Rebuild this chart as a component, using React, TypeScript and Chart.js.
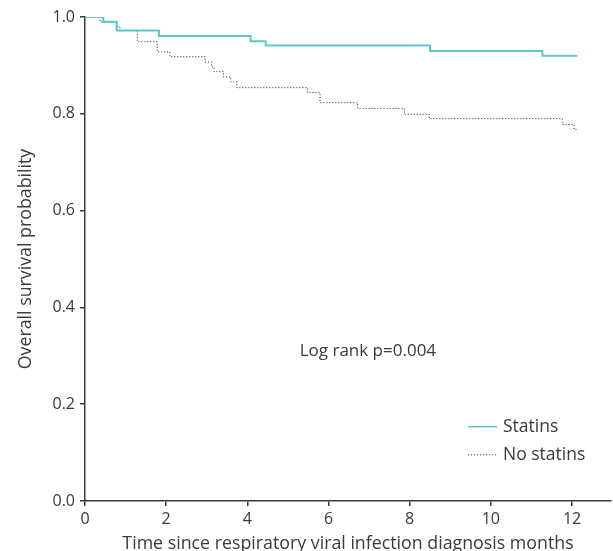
import React, { useEffect, useRef } from "react";
import { Chart, registerables } from "chart.js";

Chart.register(...registerables);

// Statins: [time (months), survival]
const statinsTimes = [0, 0.45, 0.78, 1.82, 4.08, 4.45, 8.5, 11.27, 12.13];
const statinsSurv = [1.0, 0.99, 0.972, 0.961, 0.95, 0.941, 0.93, 0.92, 0.92];

const noStatinsTimes = [
  0, 0.37, 0.78, 0.86, 1.29, 1.78, 2.09, 2.96, 3.12, 3.18, 3.41, 3.59, 3.74,
  5.48, 5.79, 6.72, 7.87, 8.48, 11.76, 12.05, 12.1,
];
const noStatinsSurv = [
  1.0, 0.99, 0.98, 0.972, 0.949, 0.928, 0.918, 0.907, 0.897, 0.887, 0.876,
  0.866, 0.854, 0.844, 0.823, 0.811, 0.799, 0.79, 0.778, 0.768, 0.765,
];

const xTicks = [0, 2, 4, 6, 8, 10, 12];
const yTicks = [0, 0.2, 0.4, 0.6, 0.8, 1.0];

const seriesLabels = ["Statins", "No statins"];
const annotationText = "Log rank p=0.004";
const xTitle = "Time since respiratory viral infection diagnosis months";
const yTitle = "Overall survival probability";

const TEAL = "#5cc6cb";
const TEXT = "#3a3a3a";
const AXIS = "#3a3a3a";
const FONT = "'Open Sans'";

export default function App() {
  const ref = useRef<HTMLCanvasElement | null>(null);

  useEffect(() => {
    document.body.style.margin = "0";
    const canvas = ref.current;
    if (!canvas) return;

    const overlay = {
      id: "overlay",
      afterDatasetsDraw(chart: any) {
        const ctx = chart.ctx;
        const xs = chart.scales.x;
        const ys = chart.scales.y;
        ctx.save();
        ctx.fillStyle = TEXT;
        ctx.font = `17px ${FONT}`;
        ctx.textBaseline = "middle";
        ctx.textAlign = "center";
        ctx.fillText(annotationText, xs.getPixelForValue(6.97), ys.getPixelForValue(0.309));
        // legend
        const lx0 = xs.getPixelForValue(9.44);
        const lx1 = xs.getPixelForValue(10.15);
        const ly0 = ys.getPixelForValue(0.1535);
        const ly1 = ys.getPixelForValue(0.0954);
        ctx.lineWidth = 1.5;
        ctx.strokeStyle = TEAL;
        ctx.beginPath();
        ctx.moveTo(lx0, ly0);
        ctx.lineTo(lx1, ly0);
        ctx.stroke();
        ctx.lineWidth = 1;
        ctx.strokeStyle = "#222";
        ctx.setLineDash([1, 2]);
        ctx.beginPath();
        ctx.moveTo(lx0, ly1);
        ctx.lineTo(lx1, ly1);
        ctx.stroke();
        ctx.setLineDash([]);
        ctx.textAlign = "left";
        ctx.font = `17.5px ${FONT}`;
        ctx.fillText(seriesLabels[0], lx1 + 6, ly0);
        ctx.fillText(seriesLabels[1], lx1 + 6, ly1);
        ctx.restore();
      },
    };

    const chart = new Chart(canvas, {
      type: "line",
      data: {
        datasets: [
          {
            label: seriesLabels[0],
            data: statinsTimes.map((t, i) => ({ x: t, y: statinsSurv[i] })),
            borderColor: TEAL,
            borderWidth: 2,
            pointRadius: 0,
            stepped: "before",
            fill: false,
          },
          {
            label: seriesLabels[1],
            data: noStatinsTimes.map((t, i) => ({ x: t, y: noStatinsSurv[i] })),
            borderColor: "#222",
            borderWidth: 1,
            borderDash: [1, 2],
            pointRadius: 0,
            stepped: "before",
            fill: false,
          },
        ],
      },
      options: {
        animation: false,
        responsive: false,
        devicePixelRatio: 1,
        layout: { padding: { top: 17, right: 2, left: 0, bottom: 0 } },
        plugins: { legend: { display: false }, tooltip: { enabled: false } },
        scales: {
          x: {
            type: "linear",
            min: 0,
            max: 12.96,
            afterBuildTicks: (s: any) => {
              s.ticks = xTicks.map((v) => ({ value: v }));
            },
            afterFit: (s: any) => {
              s.height = 50;
            },
            ticks: {
              color: TEXT,
              font: { family: FONT, size: 16 },
              padding: 4,
              maxRotation: 0,
              callback: (v: any) => String(v),
            },
            grid: { display: true, drawOnChartArea: false, drawTicks: true, tickLength: 5, color: AXIS, lineWidth: 1.5 },
            border: { display: true, color: AXIS, width: 1.5 },
            title: {
              display: true,
              text: xTitle,
              color: TEXT,
              font: { family: FONT, size: 17.8 },
              padding: { top: 0, bottom: -4 },
            },
          },
          y: {
            type: "linear",
            min: 0,
            max: 1,
            afterBuildTicks: (s: any) => {
              s.ticks = yTicks.map((v) => ({ value: v }));
            },
            afterFit: (s: any) => {
              s.width = 85;
            },
            ticks: {
              color: TEXT,
              font: { family: FONT, size: 16 },
              padding: 5,
              callback: (v: any) => Number(v).toFixed(1),
            },
            grid: { display: true, drawOnChartArea: false, drawTicks: true, tickLength: 5, color: AXIS, lineWidth: 1.5 },
            border: { display: true, color: AXIS, width: 1.5 },
            title: {
              display: true,
              text: yTitle,
              color: TEXT,
              font: { family: FONT, size: 17.8 },
              padding: { top: 15, bottom: 0 },
            },
          },
        },
      },
      plugins: [overlay],
    });

    return () => chart.destroy();
  }, []);

  return (
    <div style={{ width: 613, height: 551 }}>
      <canvas ref={ref} width={613} height={551} style={{ display: "block" }} />
    </div>
  );
}
